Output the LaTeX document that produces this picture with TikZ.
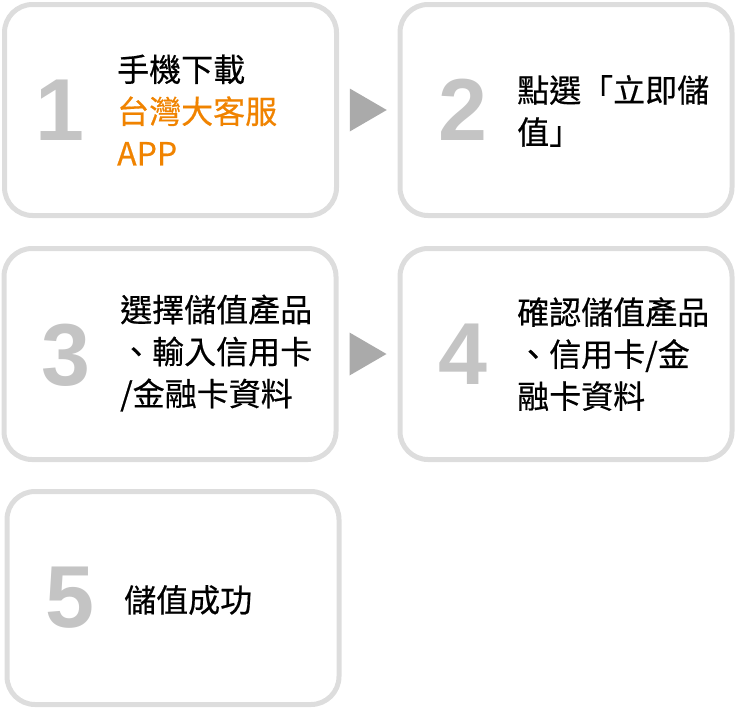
\documentclass[tikz,border=0pt]{standalone}
\usepackage{fontspec}
\setmainfont{Liberation Sans}
\newfontfamily\cjk[FakeBold=0.5]{Noto Sans CJK TC}
\usetikzlibrary{calc}
\definecolor{boxline}{HTML}{DDDDDD}
\definecolor{numgray}{HTML}{C4C4C4}
\definecolor{arrgray}{HTML}{AAAAAA}
\definecolor{appor}{HTML}{F08300}
\tikzset{
  stepbox/.style={draw=boxline, line width=5pt, rounded corners=28pt,
    minimum width=332pt, minimum height=211pt, inner sep=0pt},
  num/.style={text=numgray, font=\fontsize{88}{88}\selectfont\bfseries, inner sep=0pt},
  txt/.style={anchor=west, align=left, inner sep=0pt, font=\cjk\fontsize{32}{42}\selectfont},
  tri/.style={fill=arrgray}
}
\begin{document}
\begin{tikzpicture}[x=1pt, y=-1pt]
\useasboundingbox (0,0) rectangle (737,712);
% boxes
\node[stepbox] (b1) at (170.5,110) {};
\node[stepbox] (b2) at (566,110) {};
\node[stepbox] (b3) at (170,354) {};
\node[stepbox] (b4) at (566,354) {};
\node[stepbox, minimum height=213pt] (b5) at (173,598) {};
% numbers
\node[num] (n1) at (60,110) {1};
\node[num] (n2) at (463,110) {2};
\node[num] (n3) at (66,355) {3};
\node[num] (n4) at (463,354) {4};
\node[num] (n5) at (70,598) {5};
% texts
\node[txt] (t1) at (117,110) {手機下載\\\textcolor{appor}{台灣大客服}\\\textcolor{appor}{APP}};
\node[txt] (t2) at (517,111) {點選「立即儲\\值」};
\node[txt] (t3) at (120,353) {選擇儲值產品\\、輸入信用卡\\/金融卡資料};
\node[txt] (t4) at (517,354) {確認儲值產品\\、信用卡/金\\融卡資料};
\node[txt] (t5) at (124,600) {儲值成功};
% arrows
\coordinate (m1) at ($(b1.east)!.5!(b2.west)$);
\coordinate (m2) at ($(b3.east)!.5!(b4.west)$);
\fill[tri] ($(m1)+(-18.5,-21.5)$) -- ++(37,21.5) -- ++(-37,21.5) -- cycle;
\fill[tri] ($(m2)+(-18.5,-21.5)$) -- ++(37,21.5) -- ++(-37,21.5) -- cycle;
\end{tikzpicture}
\end{document}
